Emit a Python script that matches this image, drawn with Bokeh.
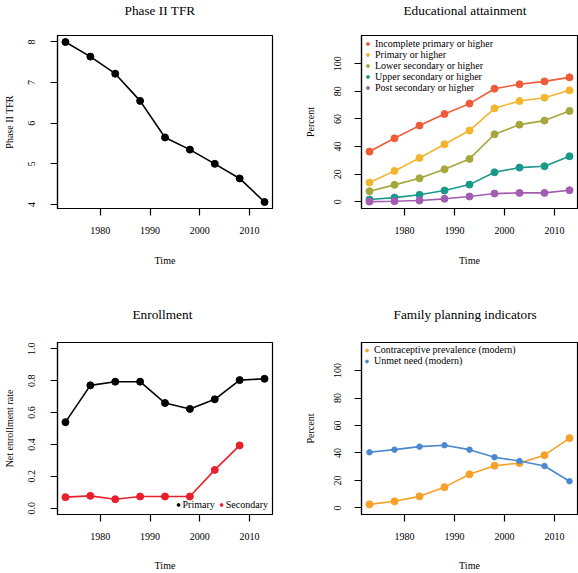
from bokeh.plotting import figure
from bokeh.layouts import column, row
from bokeh.models import (Range1d, FixedTicker, Legend, LegendItem,
                          PrintfTickFormatter, Title)
from bokeh.embed import file_html
from bokeh.resources import INLINE

# ---- data ----
years = [1973, 1978, 1983, 1988, 1993, 1998, 2003, 2008, 2013]
x_ticks = [1980, 1990, 2000, 2010]

tfr = [8.0, 7.64, 7.22, 6.55, 5.65, 5.35, 5.0, 4.64, 4.06]

edu_labels = ["Incomplete primary or higher", "Primary or higher",
              "Lower secondary or higher", "Upper secondary or higher",
              "Post secondary or higher"]
edu_incomplete_primary = [36.4, 46.0, 55.2, 63.6, 71.1, 81.9, 85.1, 87.2, 90.1]
edu_primary = [14.0, 22.4, 31.8, 41.7, 51.6, 67.7, 73.0, 75.4, 80.7]
edu_lower_secondary = [7.7, 12.3, 17.1, 23.6, 31.1, 48.9, 55.9, 58.8, 65.8]
edu_upper_secondary = [1.7, 3.1, 5.1, 8.2, 12.5, 21.4, 24.8, 25.8, 33.0]
edu_post_secondary = [0.2, 0.5, 1.0, 2.2, 3.9, 6.0, 6.5, 6.5, 8.4]
edu_colors = ["#F15A37", "#F4B52E", "#A5A63C", "#19998A", "#A25CB1"]

enr_years_primary = years
enr_primary = [0.54, 0.771, 0.794, 0.794, 0.660, 0.623, 0.683, 0.804, 0.812]
enr_years_secondary = [1973, 1978, 1983, 1988, 1993, 1998, 2003, 2008]
enr_secondary = [0.069, 0.077, 0.056, 0.073, 0.073, 0.073, 0.240, 0.394]

fp_labels = ["Contraceptive prevalence (modern)", "Unmet need (modern)"]
fp_cpr = [2.6, 4.8, 8.4, 15.1, 24.5, 30.7, 32.6, 38.4, 50.8]
fp_unmet = [40.5, 42.4, 44.6, 45.6, 42.4, 36.9, 34.1, 30.5, 19.4]
fp_colors = ["#F7A128", "#4A88CF"]

FONT = "Liberation Serif"
X_START, X_END = 1971.4, 2014.6


def make_fig(width, height, left, right, top, bottom, y_range, yticks, title,
             title_x, ylabel, xlab_standoff, ylab_standoff, ylbl_standoff, gap):
    p = figure(width=width, height=height, output_backend="svg",
               toolbar_location=None, tools="",
               x_range=Range1d(X_START, X_END), y_range=Range1d(*y_range),
               min_border_left=left, min_border_right=right,
               min_border_top=top, min_border_bottom=bottom)
    p.title.text = title
    p.title.text_font = FONT
    p.title.text_font_size = "13.3px"
    p.title.text_font_style = "normal"
    p.title.text_color = "black"
    p.title.align = "left"
    p.title.offset = title_x
    p.title.standoff = 0
    # empty spacer between the title and the plot box
    p.add_layout(Title(text=" ", text_font_size="1px", standoff=gap), "above")
    p.xgrid.visible = False
    p.ygrid.visible = False
    p.outline_line_color = "black"
    p.outline_line_width = 1.2
    p.outline_line_alpha = 1
    p.background_fill_color = "white"
    p.border_fill_color = "white"
    for ax in (p.xaxis[0], p.yaxis[0]):
        ax.axis_line_color = "black"
        ax.axis_line_width = 1.2
        ax.major_tick_out = 7
        ax.major_tick_in = 0
        ax.major_tick_line_width = 1.2
        ax.minor_tick_out = 0
        ax.minor_tick_in = 0
        ax.major_label_text_font = FONT
        ax.major_label_text_font_size = "10px"
        ax.major_label_text_color = "black"
        ax.axis_label_text_font = FONT
        ax.axis_label_text_font_size = "10px"
        ax.axis_label_text_font_style = "normal"
        ax.axis_label_text_color = "black"
    p.xaxis[0].major_label_standoff = 11
    p.yaxis[0].major_label_standoff = ylbl_standoff
    p.xaxis[0].ticker = FixedTicker(ticks=x_ticks)
    p.yaxis[0].ticker = FixedTicker(ticks=yticks)
    p.yaxis[0].major_label_orientation = "vertical"
    p.xaxis[0].axis_label = "Time"
    p.yaxis[0].axis_label = ylabel
    p.xaxis[0].axis_label_standoff = xlab_standoff
    p.yaxis[0].axis_label_standoff = ylab_standoff
    return p


# ---- Panel 1: Phase II TFR ----
p1 = make_fig(289, 289, 54, 17, 35, 81, (3.90, 8.16), [4, 5, 6, 7, 8],
              "Phase II TFR", 67, "Phase II TFR", 18, 11, 15, 15)
p1.line(years, tfr, line_color="black", line_width=1.6)
p1.scatter(years, tfr, size=7, fill_color="black", line_color="black")

# ---- Panel 2: Educational attainment ----
p2 = make_fig(289, 289, 72, 1, 35, 81, (-4.8, 120.4), [0, 20, 40, 60, 80, 100],
              "Educational attainment", 42, "Percent", 18, 16, 13, 15)
edu_series = [edu_incomplete_primary, edu_primary, edu_lower_secondary,
              edu_upper_secondary, edu_post_secondary]
items2 = []
for lab, vals, col in zip(edu_labels, edu_series, edu_colors):
    p2.line(years, vals, line_color=col, line_width=1.6)
    r = p2.scatter(years, vals, size=7, fill_color=col, line_color=col)
    items2.append(LegendItem(label=lab, renderers=[r]))
leg2 = Legend(items=items2, location="top_left", margin=3, padding=3,
              spacing=0, label_height=11, glyph_height=11, glyph_width=7,
              label_standoff=4, background_fill_alpha=0,
              border_line_color=None, label_text_font=FONT,
              label_text_font_size="10px", label_text_color="black")
p2.add_layout(leg2)

# ---- Panel 3: Enrollment ----
p3 = make_fig(289, 284, 54, 17, 53, 57, (-0.04, 1.04),
              [0.0, 0.2, 0.4, 0.6, 0.8, 1.0],
              "Enrollment", 75, "Net enrollment rate", 17, 11, 15, 18)
p3.yaxis[0].formatter = PrintfTickFormatter(format="%.1f")
p3.line(enr_years_primary, enr_primary, line_color="black", line_width=1.6)
r31 = p3.scatter(enr_years_primary, enr_primary, size=7, fill_color="black",
                 line_color="black")
p3.line(enr_years_secondary, enr_secondary, line_color="#E8202C", line_width=1.6)
r32 = p3.scatter(enr_years_secondary, enr_secondary, size=7,
                 fill_color="#E8202C", line_color="#E8202C")
leg3 = Legend(items=[LegendItem(label="Primary", renderers=[r31]),
                     LegendItem(label="Secondary", renderers=[r32])],
              location="bottom_right", orientation="horizontal", margin=4,
              padding=4, spacing=3, label_height=11, glyph_height=11,
              glyph_width=7, label_standoff=1, background_fill_alpha=0,
              border_line_color=None, label_text_font=FONT,
              label_text_font_size="10px", label_text_color="black")
p3.add_layout(leg3)

# ---- Panel 4: Family planning indicators ----
p4 = make_fig(289, 284, 72, 1, 53, 57, (-4.8, 120.4), [0, 20, 40, 60, 80, 100],
              "Family planning indicators", 32, "Percent", 17, 16, 13, 18)
p4.line(years, fp_cpr, line_color=fp_colors[0], line_width=1.6)
r41 = p4.scatter(years, fp_cpr, size=7, fill_color=fp_colors[0],
                 line_color=fp_colors[0])
p4.line(years, fp_unmet, line_color=fp_colors[1], line_width=1.6)
r42 = p4.scatter(years, fp_unmet, size=5.5, fill_color=fp_colors[1],
                 line_color=fp_colors[1])
leg4 = Legend(items=[LegendItem(label=fp_labels[0], renderers=[r41]),
                     LegendItem(label=fp_labels[1], renderers=[r42])],
              location="top_left", margin=2, padding=2, spacing=0,
              label_height=10, glyph_height=10, glyph_width=7,
              label_standoff=4, background_fill_alpha=0,
              border_line_color=None, label_text_font=FONT,
              label_text_font_size="10px", label_text_color="black")
p4.add_layout(leg4)

layout = column(row(p1, p2), row(p3, p4))
open("out.html", "w").write(file_html(layout, INLINE))
